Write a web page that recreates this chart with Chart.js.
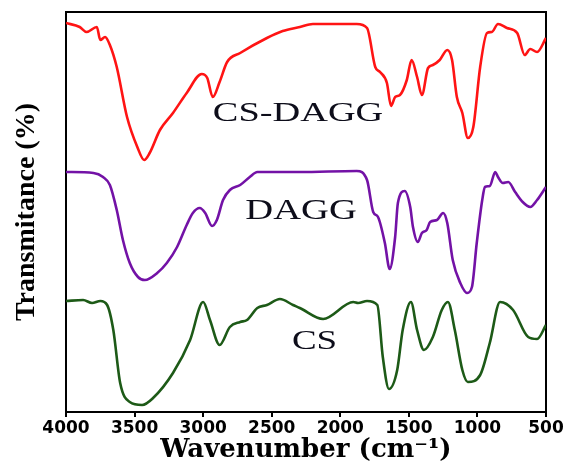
<!DOCTYPE html>
<html>
<head>
<meta charset="utf-8">
<script src="https://cdn.jsdelivr.net/npm/chart.js@4"></script>
<style>
  html, body { margin: 0; padding: 0; background: #fff; }
  #wrap { width: 568px; height: 469px; }
</style>
</head>
<body>
<div id="wrap"><canvas id="ftir"></canvas></div>
<script>
// wavenumber (cm-1) and transmittance (arbitrary, stacked) for each spectrum
const csDaggWave = [4000,3900,3850,3775,3750,3715,3680,3630,3555,3480,3430,3390,3315,3220,3120,3010,2970,2930,2880,2825,2730,2535,2420,2295,2200,1880,1805,1745,1710,1660,1630,1600,1565,1515,1480,1440,1405,1360,1325,1275,1220,1185,1150,1110,1070,1030,980,930,895,850,785,710,655,615,565,500];
const csDaggT    = [389,385,380,385,372,375,367,345,295,265,252,259,282,299,319,338,334,315,330,350,359,374,381,385,388,388,384,345,340,329,306,315,317,332,352,335,317,344,347,352,362,352,315,299,274,285,345,379,380,388,384,379,357,363,360,374];

const daggWave = [4000,3800,3730,3680,3630,3585,3535,3475,3425,3335,3265,3190,3120,3075,3025,2985,2935,2900,2855,2805,2730,2660,2605,2295,1880,1805,1760,1725,1675,1640,1600,1580,1530,1490,1470,1435,1405,1370,1345,1295,1250,1220,1180,1125,1075,1040,1005,965,945,910,870,850,815,775,725,670,615,565,500];
const daggT    = [240,239,235,227,202,172,149,135,132,139,149,165,187,199,204,199,186,192,212,222,227,235,240,240,241,232,200,195,169,143,175,209,221,205,185,170,179,182,190,192,199,189,152,129,119,125,169,212,225,226,240,235,229,230,220,210,205,212,225];

const csWave = [4000,3875,3810,3750,3700,3655,3605,3535,3445,3365,3220,3095,3000,2950,2880,2805,2730,2680,2605,2535,2440,2345,2295,2125,1905,1870,1805,1730,1690,1645,1585,1545,1485,1440,1390,1325,1260,1215,1165,1110,1070,980,910,835,740,630,565,500];
const csT    = [111,112,109,111,107,82,29,10,7,14,39,72,110,92,67,85,90,92,104,107,113,107,104,93,110,109,111,107,55,23,42,82,110,82,62,75,102,110,82,42,30,37,69,110,102,75,73,87];

// curve names and where they sit on the plot
const curveLabels = ['CS-DAGG', 'DAGG', 'CS'];
const labelWave   = [2308, 2286, 2188];
const labelT      = [291, 193, 63];

function toPoints(xs, ys) {
    return xs.map((x, i) => ({ x: x, y: ys[i] }));
}

// draws the sample names inside the plot (wide serif like the original)
const curveLabelPlugin = {
    id: 'curveLabels',
    afterDatasetsDraw(chart) {
        const ctx = chart.ctx;
        const xs = chart.scales.x;
        const ys = chart.scales.y;
        const stretch = [1.42, 1.33, 1.32];
        const sizes = [27, 29, 28];
        curveLabels.forEach((txt, i) => {
            const px = xs.getPixelForValue(labelWave[i]);
            const py = ys.getPixelForValue(labelT[i]);
            ctx.save();
            ctx.translate(px, py);
            ctx.scale(stretch[i], 1);
            ctx.font = sizes[i] + 'px "Liberation Serif", "Times New Roman", serif';
            ctx.fillStyle = '#0d0d1a';
            ctx.textAlign = 'center';
            ctx.textBaseline = 'alphabetic';
            ctx.fillText(txt, 0, 0);
            ctx.restore();
        });
    }
};

const frameBorder = { display: true, color: '#000', width: 2 };

new Chart(document.getElementById('ftir'), {
    type: 'line',
    data: {
        datasets: [
            { label: 'CS-DAGG', data: toPoints(csDaggWave, csDaggT), borderColor: '#ff1414' },
            { label: 'DAGG', data: toPoints(daggWave, daggT), borderColor: '#7312a6' },
            { label: 'CS', data: toPoints(csWave, csT), borderColor: '#1d5a17' }
        ]
    },
    options: {
        responsive: true,
        maintainAspectRatio: false,
        animation: false,
        layout: { padding: { top: 12, right: 22, left: 0, bottom: 0 } },
        elements: {
            point: { radius: 0 },
            line: { borderWidth: 2.6, cubicInterpolationMode: 'monotone', fill: false }
        },
        plugins: {
            legend: { display: false },
            tooltip: { enabled: false }
        },
        scales: {
            x: {
                type: 'linear',
                position: 'bottom',
                reverse: true,
                min: 500,
                max: 4000,
                ticks: {
                    stepSize: 500,
                    autoSkip: false,
                    maxRotation: 0,
                    padding: 1,
                    color: '#000',
                    font: { family: 'DejaVu Sans', weight: 'bold', size: 17 },
                    callback: (value) => String(value)
                },
                grid: { display: true, drawOnChartArea: false, drawTicks: true, tickLength: 5, color: '#000', lineWidth: 2 },
                border: frameBorder,
                title: {
                    display: true,
                    text: 'Wavenumber (cm\u207B\u00B9)',
                    color: '#000',
                    padding: { top: 0, bottom: 3 },
                    font: { family: 'DejaVu Serif', weight: 'bold', size: 26 }
                },
                afterFit(scale) { scale.height = 57; }
            },
            xTop: {
                type: 'linear',
                position: 'top',
                reverse: true,
                min: 500,
                max: 4000,
                ticks: { display: false },
                grid: { display: false },
                border: frameBorder,
                afterFit(scale) { scale.height = 0; }
            },
            y: {
                type: 'linear',
                position: 'left',
                min: 0,
                max: 400,
                ticks: { display: false },
                grid: { display: false },
                border: frameBorder,
                title: {
                    display: true,
                    text: 'Transmitance (%)',
                    color: '#000',
                    padding: { top: 10, bottom: 0 },
                    font: { family: 'Liberation Serif', weight: 'bold', size: 28 }
                },
                afterFit(scale) { scale.width = 66; }
            },
            yRight: {
                type: 'linear',
                position: 'right',
                min: 0,
                max: 400,
                ticks: { display: false },
                grid: { display: false },
                border: frameBorder,
                afterFit(scale) { scale.width = 0; }
            }
        }
    },
    plugins: [curveLabelPlugin]
});
</script>
</body>
</html>
